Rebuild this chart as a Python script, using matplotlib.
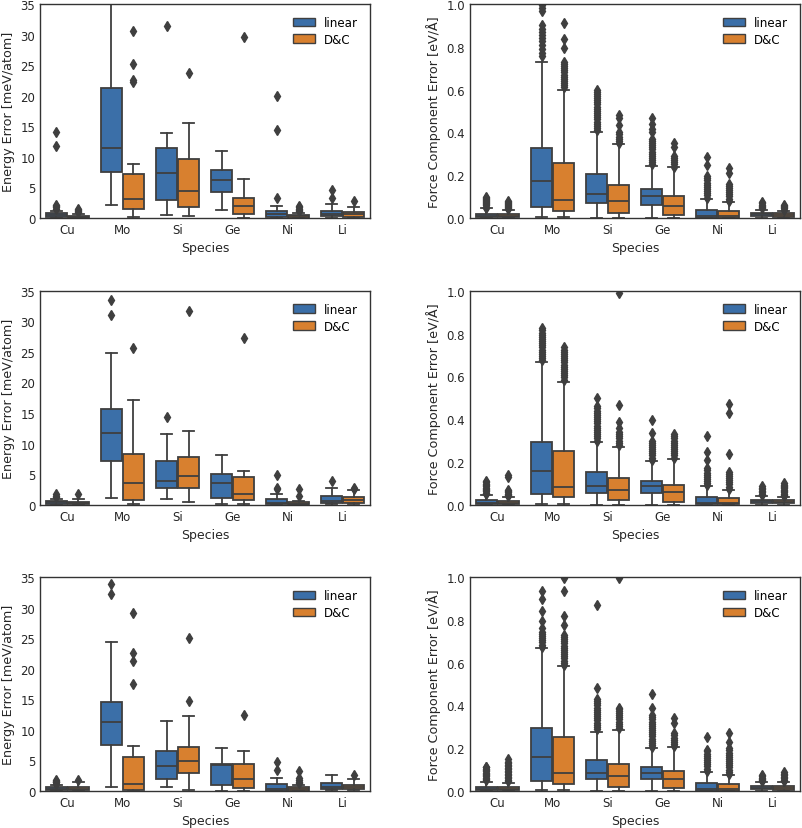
import matplotlib
matplotlib.use("Agg")
import matplotlib.pyplot as plt
from matplotlib.patches import Patch
import numpy as np

species = ["Cu", "Mo", "Si", "Ge", "Ni", "Li"]
hues = ["linear", "D&C"]

# box stats per species: (whislo, q1, median, q3, whishi)
# --- energy, row 1
e1_linear = [(0.0, 0.1, 0.4, 0.75, 1.15), (2.1, 7.5, 11.4, 21.2, 36.0), (0.45, 2.9, 7.35, 11.35, 13.85),
             (1.25, 4.15, 6.2, 7.9, 10.9), (0.0, 0.1, 0.55, 1.15, 1.9), (0.05, 0.3, 0.7, 1.2, 2.2)]
e1_linear_fl = [[1.5, 1.7, 1.9, 2.1, 11.8, 14.0], [], [31.4], [], [3.3, 14.3, 19.9], [3.2, 4.5]]
e1_dc = [(0.0, 0.05, 0.2, 0.35, 0.7), (0.1, 1.45, 3.1, 7.15, 8.8), (0.35, 1.8, 4.45, 9.65, 15.6),
         (0.05, 0.7, 2.0, 3.2, 6.3), (0.0, 0.05, 0.3, 0.5, 0.8), (0.05, 0.2, 0.6, 0.9, 1.8)]
e1_dc_fl = [[0.9, 1.1, 1.3, 1.5], [22.2, 22.6, 25.1, 30.5], [23.7], [29.6], [1.1, 1.3, 1.5, 1.8, 2.0], [2.7]]

# --- energy, row 2
e2_linear = [(0.0, 0.1, 0.4, 0.6, 1.0), (1.15, 7.2, 11.8, 15.65, 24.9), (0.9, 2.8, 3.9, 7.1, 11.55),
             (0.05, 1.1, 3.5, 5.1, 8.1), (0.0, 0.05, 0.2, 1.0, 1.75), (0.05, 0.3, 0.6, 1.45, 2.8)]
e2_linear_fl = [[1.2, 1.45, 1.7], [31.1, 33.5], [14.3], [], [2.5, 2.8, 4.8], [3.8]]
e2_dc = [(0.0, 0.05, 0.3, 0.5, 1.0), (0.05, 0.75, 3.6, 8.3, 17.1), (0.5, 2.7, 4.7, 7.85, 12.05),
         (0.05, 0.7, 1.8, 4.5, 5.5), (0.0, 0.05, 0.15, 0.4, 0.6), (0.05, 0.3, 0.8, 1.2, 2.4)]
e2_dc_fl = [[1.7], [25.7], [31.7], [27.2], [1.4, 2.6], [2.5, 2.8]]

# --- energy, row 3
e3_linear = [(0.0, 0.1, 0.35, 0.6, 1.0), (0.6, 7.5, 11.35, 14.6, 24.4), (0.6, 1.9, 4.1, 6.55, 11.5),
             (0.05, 1.0, 4.2, 4.5, 7.1), (0.0, 0.05, 0.3, 1.15, 2.1), (0.1, 0.4, 0.7, 1.35, 2.6)]
e3_linear_fl = [[1.2, 1.4, 1.55, 1.7, 1.85], [32.3, 33.9], [], [], [3.4, 4.8], []]
e3_dc = [(0.0, 0.1, 0.4, 0.7, 1.4), (0.05, 0.2, 1.1, 5.6, 7.35), (0.1, 2.9, 4.95, 7.25, 12.2),
         (0.05, 0.5, 2.0, 4.4, 6.6), (0.0, 0.05, 0.35, 0.6, 1.0), (0.1, 0.3, 0.6, 1.0, 1.9)]
e3_dc_fl = [[1.8], [17.5, 21.3, 22.6, 29.2], [14.8, 25.1], [12.5], [1.3, 1.55, 1.8, 2.1, 3.2], [2.55]]

# --- force, row 1
f1_linear = [(0.0, 0.003, 0.008, 0.02, 0.045), (0.005, 0.05, 0.17, 0.328, 0.73), (0.0, 0.068, 0.113, 0.204, 0.40),
             (0.0, 0.061, 0.1, 0.135, 0.243), (0.0, 0.001, 0.01, 0.037, 0.09), (0.0, 0.008, 0.016, 0.025, 0.039)]
f1_linear_fl = [
    [0.048, 0.053, 0.058, 0.063, 0.068, 0.073, 0.078, 0.083, 0.088, 0.093, 0.098],
    [0.755, 0.77, 0.79, 0.81, 0.825, 0.84, 0.855, 0.87, 0.885, 0.90, 0.965, 0.98, 0.995],
    [0.41, 0.42, 0.43, 0.44, 0.45, 0.46, 0.47, 0.48, 0.49, 0.50, 0.51, 0.52, 0.53, 0.54, 0.55,
     0.56, 0.57, 0.58, 0.59, 0.60],
    [0.25, 0.26, 0.27, 0.28, 0.29, 0.30, 0.31, 0.32, 0.33, 0.34, 0.35, 0.36, 0.37, 0.40, 0.415, 0.44, 0.465],
    [0.095, 0.105, 0.115, 0.125, 0.135, 0.145, 0.155, 0.165, 0.175, 0.185, 0.195, 0.245, 0.285],
    [0.044, 0.05, 0.056, 0.062, 0.068, 0.074],
]
f1_dc = [(0.0, 0.003, 0.008, 0.017, 0.037), (0.003, 0.034, 0.082, 0.258, 0.60), (0.0, 0.025, 0.081, 0.152, 0.344),
         (0.0, 0.012, 0.056, 0.10, 0.236), (0.0, 0.001, 0.01, 0.033, 0.075), (0.0, 0.006, 0.014, 0.022, 0.034)]
f1_dc_fl = [
    [0.04, 0.045, 0.05, 0.055, 0.06, 0.065, 0.07, 0.075, 0.08],
    [0.61, 0.62, 0.63, 0.64, 0.65, 0.66, 0.67, 0.68, 0.69, 0.70, 0.71, 0.72, 0.73, 0.795, 0.837, 0.91],
    [0.35, 0.36, 0.37, 0.38, 0.39, 0.40, 0.432, 0.465, 0.479],
    [0.24, 0.25, 0.26, 0.27, 0.28, 0.29, 0.33, 0.35],
    [0.08, 0.09, 0.10, 0.11, 0.12, 0.13, 0.14, 0.15, 0.16, 0.21, 0.235],
    [0.038, 0.044, 0.05, 0.056, 0.062],
]

# --- force, row 2
f2_linear = [(0.0, 0.003, 0.008, 0.02, 0.045), (0.005, 0.048, 0.159, 0.294, 0.665), (0.0, 0.056, 0.089, 0.152, 0.294),
             (0.0, 0.053, 0.087, 0.112, 0.202), (0.0, 0.001, 0.01, 0.036, 0.086), (0.0, 0.008, 0.016, 0.024, 0.04)]
f2_linear_fl = [
    [0.05, 0.056, 0.062, 0.068, 0.074, 0.08, 0.086, 0.092, 0.098, 0.104, 0.11],
    [0.675, 0.685, 0.695, 0.705, 0.715, 0.725, 0.735, 0.745, 0.755, 0.765, 0.775, 0.785, 0.795, 0.805, 0.815, 0.825],
    [0.30, 0.31, 0.32, 0.33, 0.34, 0.35, 0.36, 0.37, 0.38, 0.39, 0.40, 0.41, 0.42, 0.43, 0.44, 0.45, 0.46, 0.50],
    [0.21, 0.22, 0.23, 0.24, 0.25, 0.26, 0.27, 0.28, 0.29, 0.30, 0.335, 0.394],
    [0.09, 0.10, 0.11, 0.12, 0.13, 0.14, 0.15, 0.16, 0.17, 0.21, 0.248, 0.322],
    [0.045, 0.052, 0.059, 0.066, 0.073, 0.08, 0.086],
]
f2_dc = [(0.0, 0.003, 0.008, 0.017, 0.037), (0.005, 0.036, 0.084, 0.25, 0.575), (0.0, 0.02, 0.07, 0.123, 0.27),
         (0.0, 0.012, 0.058, 0.092, 0.213), (0.0, 0.001, 0.01, 0.03, 0.07), (0.0, 0.006, 0.014, 0.022, 0.036)]
f2_dc_fl = [
    [0.04, 0.046, 0.052, 0.058, 0.064, 0.07, 0.13, 0.14],
    [0.585, 0.595, 0.605, 0.615, 0.625, 0.635, 0.645, 0.655, 0.665, 0.675, 0.685, 0.695, 0.705, 0.715, 0.725, 0.735],
    [0.28, 0.29, 0.30, 0.31, 0.32, 0.33, 0.34, 0.36, 0.385, 0.467, 0.99],
    [0.22, 0.23, 0.24, 0.25, 0.26, 0.27, 0.28, 0.29, 0.30, 0.31, 0.32, 0.33],
    [0.075, 0.085, 0.095, 0.105, 0.115, 0.125, 0.135, 0.145, 0.155, 0.238, 0.43, 0.469],
    [0.04, 0.046, 0.052, 0.058, 0.064, 0.07, 0.076, 0.082, 0.088, 0.094, 0.1],
]

# --- force, row 3
f3_linear = [(0.0, 0.003, 0.008, 0.02, 0.044), (0.005, 0.047, 0.16, 0.296, 0.667), (0.0, 0.056, 0.086, 0.145, 0.277),
             (0.0, 0.055, 0.086, 0.114, 0.20), (0.0, 0.001, 0.01, 0.037, 0.089), (0.0, 0.008, 0.015, 0.022, 0.04)]
f3_linear_fl = [
    [0.05, 0.056, 0.062, 0.068, 0.074, 0.08, 0.086, 0.092, 0.098, 0.104, 0.11, 0.114],
    [0.675, 0.685, 0.695, 0.705, 0.715, 0.725, 0.735, 0.745, 0.76, 0.797, 0.844, 0.90, 0.936],
    [0.29, 0.30, 0.31, 0.32, 0.33, 0.34, 0.35, 0.36, 0.37, 0.38, 0.39, 0.40, 0.41, 0.42, 0.43, 0.48, 0.87],
    [0.205, 0.215, 0.225, 0.235, 0.245, 0.255, 0.265, 0.275, 0.285, 0.295, 0.305, 0.315, 0.325, 0.335,
     0.345, 0.355, 0.39, 0.452],
    [0.095, 0.105, 0.115, 0.125, 0.135, 0.145, 0.155, 0.165, 0.175, 0.185, 0.19, 0.252],
    [0.045, 0.051, 0.057, 0.063, 0.069, 0.075],
]
f3_dc = [(0.0, 0.003, 0.008, 0.017, 0.039), (0.005, 0.033, 0.086, 0.252, 0.583), (0.0, 0.019, 0.072, 0.125, 0.287),
         (0.0, 0.0125, 0.055, 0.092, 0.206), (0.0, 0.001, 0.01, 0.033, 0.075), (0.0, 0.006, 0.014, 0.022, 0.04)]
f3_dc_fl = [
    [0.045, 0.052, 0.059, 0.066, 0.073, 0.08, 0.087, 0.094, 0.101, 0.108, 0.115, 0.122, 0.13, 0.138, 0.148],
    [0.59, 0.60, 0.61, 0.62, 0.63, 0.64, 0.65, 0.66, 0.67, 0.68, 0.69, 0.70, 0.71, 0.72, 0.73,
     0.774, 0.82, 0.935, 0.998],
    [0.295, 0.305, 0.315, 0.325, 0.335, 0.345, 0.355, 0.365, 0.375, 0.385, 0.39, 0.997],
    [0.21, 0.22, 0.23, 0.24, 0.25, 0.26, 0.27, 0.32, 0.343],
    [0.08, 0.09, 0.10, 0.11, 0.12, 0.13, 0.14, 0.15, 0.16, 0.17, 0.18, 0.19, 0.20, 0.23, 0.27],
    [0.045, 0.052, 0.059, 0.066, 0.073, 0.08, 0.09],
]

energy_label = "Energy Error [meV/atom]"
force_label = "Force Component Error [eV/Å]"

colors = ["#3b6fa8", "#d8802f"]
gray = "#3f3f3f"
lw = 1.3


def make_stats(boxes, fliers):
    stats = []
    for (lo, q1, med, q3, hi), fl in zip(boxes, fliers):
        stats.append(dict(whislo=lo, q1=q1, med=med, q3=q3, whishi=hi, fliers=fl))
    return stats


def draw_panel(ax, linear, linear_fl, dc, dc_fl, ylabel, ymax, yticks):
    x = np.arange(len(species))
    for k, (boxes, fl) in enumerate([(linear, linear_fl), (dc, dc_fl)]):
        ax.bxp(make_stats(boxes, fl), positions=x - 0.2 + 0.4 * k, widths=0.392,
               patch_artist=True, manage_ticks=False,
               boxprops=dict(facecolor=colors[k], edgecolor=gray, linewidth=lw),
               medianprops=dict(color=gray, linewidth=lw),
               whiskerprops=dict(color=gray, linewidth=lw),
               capprops=dict(color=gray, linewidth=lw),
               flierprops=dict(marker="d", markerfacecolor=gray, markeredgecolor=gray,
                               markersize=5, linestyle="none"))
    ax.set_xlim(-0.5, len(species) - 0.5)
    ax.set_ylim(0, ymax)
    ax.set_yticks(yticks)
    ax.set_xticks(x)
    ax.set_xticklabels(species)
    ax.tick_params(length=0, labelsize=8.5, colors="#262626")
    ax.set_xlabel("Species", fontsize=9, color="#262626")
    ax.set_ylabel(ylabel, fontsize=9.2, color="#262626")
    for s in ax.spines.values():
        s.set_color("#333333")
        s.set_linewidth(1.0)
    handles = [Patch(facecolor=colors[i], edgecolor=gray, linewidth=1.0, label=hues[i]) for i in range(2)]
    ax.legend(handles=handles, loc="upper right", frameon=False, fontsize=8.6,
              handlelength=1.8, handletextpad=0.8, labelspacing=0.33, borderaxespad=0.6)


fig = plt.figure(figsize=(8.03, 8.29), dpi=100)
lefts = [0.0498, 0.5853]
bottoms = [0.736, 0.390, 0.0446]
w, h = 0.411, 0.258

panels = [
    (e1_linear, e1_linear_fl, e1_dc, e1_dc_fl, f1_linear, f1_linear_fl, f1_dc, f1_dc_fl),
    (e2_linear, e2_linear_fl, e2_dc, e2_dc_fl, f2_linear, f2_linear_fl, f2_dc, f2_dc_fl),
    (e3_linear, e3_linear_fl, e3_dc, e3_dc_fl, f3_linear, f3_linear_fl, f3_dc, f3_dc_fl),
]

for r, p in enumerate(panels):
    ax_e = fig.add_axes([lefts[0], bottoms[r], w, h])
    draw_panel(ax_e, p[0], p[1], p[2], p[3], energy_label, 35, np.arange(0, 36, 5))
    ax_f = fig.add_axes([lefts[1], bottoms[r], w, h])
    draw_panel(ax_f, p[4], p[5], p[6], p[7], force_label, 1.0, np.arange(0, 1.01, 0.2))
    ax_f.set_yticklabels([f"{t:.1f}" for t in np.arange(0, 1.01, 0.2)])

fig.savefig("out.png", dpi=100)
